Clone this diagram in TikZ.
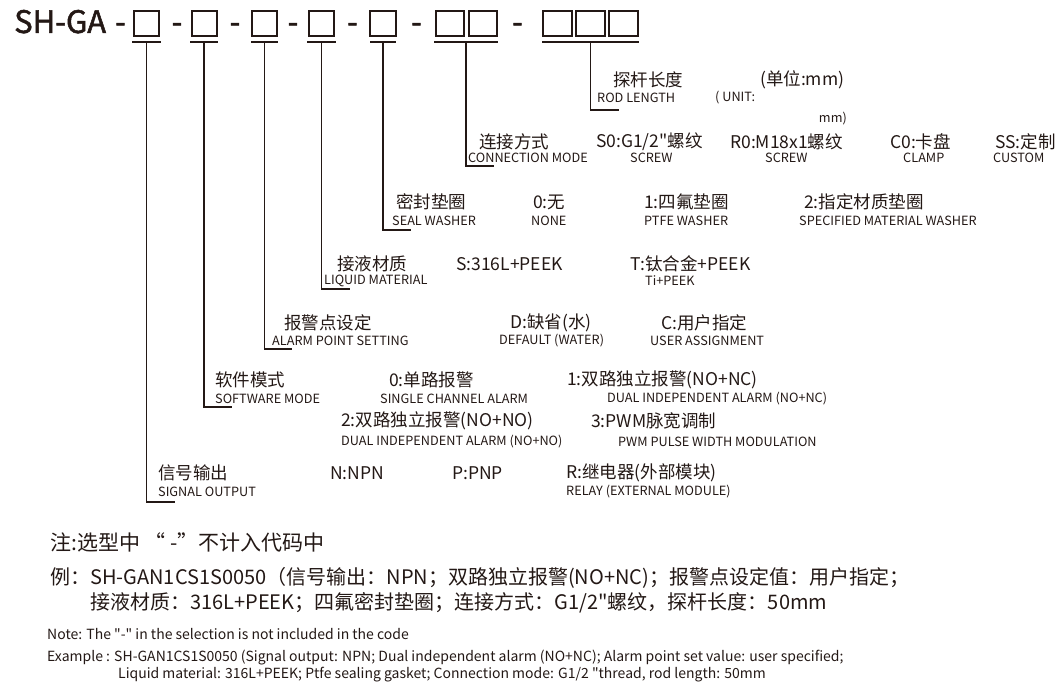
\documentclass[tikz,border=0pt]{standalone}
\usepackage{fontspec}
\setmainfont{Noto Sans CJK SC}[Ligatures=TeXOff]
\usetikzlibrary{positioning}
\definecolor{ink}{RGB}{35,24,21}

\tikzset{
  cn/.style={anchor=west, inner sep=0pt, font=\fontsize{17.5}{21}\selectfont},
  en/.style={anchor=west, inner sep=0pt, font=\fontsize{12.7}{15}\selectfont},
  codebox/.style={draw=ink, line width=1.3pt, inner sep=0pt, minimum height=25pt},
  uline/.style={draw=ink, line width=2pt},
  leader/.style={draw=ink, line width=1.3pt},
  note/.style={anchor=west, inner sep=0pt, font=\fontsize{20}{24}\selectfont},
  enote/.style={anchor=west, inner sep=0pt, font=\fontsize{14}{16}\selectfont},
  big/.style={inner sep=0pt, font=\fontsize{31}{36}\selectfont\addfontfeature{FakeBold=1.6}},
}

\begin{document}
\begin{tikzpicture}[x=1pt, y=-1pt, text=ink]
  \useasboundingbox (0,0) rectangle (1062,690);

  % code line
  \node[big, anchor=base west] (title) at (14,33) {SH-GA};
  \foreach \x [count=\i] in {120.5,177,235,293,352.5,416.5,517.5}
    \node[big, anchor=base] (dash\i) at (\x,33) {-};

  \node[codebox, minimum width=25pt] (b1) at (146.5,23.5) {};
  \node[codebox, minimum width=25pt] (b2) at (204.5,23.5) {};
  \node[codebox, minimum width=25pt] (b3) at (264.5,23.5) {};
  \node[codebox, minimum width=25pt] (b4) at (321.5,23.5) {};
  \node[codebox, minimum width=26pt] (b5) at (383,23.5) {};
  \node[codebox, minimum width=28pt] (b6a) at (450,23.5) {};
  \node[codebox, minimum width=28pt] (b6b) at (483,23.5) {};
  \node[codebox, minimum width=29pt] (b7a) at (557.5,23.5) {};
  \node[codebox, minimum width=29pt] (b7b) at (590.5,23.5) {};
  \node[codebox, minimum width=29pt] (b7c) at (623.5,23.5) {};

  \draw[uline] (132,42) -- (161,42);
  \draw[uline] (190,42) -- (218,42);
  \draw[uline] (251,42) -- (278,42);
  \draw[uline] (307,42) -- (336,42);
  \draw[uline] (370,42) -- (396,42);
  \draw[uline] (434,42) -- (498,42);
  \draw[uline] (542,42) -- (639,42);

  \coordinate (u1) at (146.5,42);
  \coordinate (u2) at (204,42);
  \coordinate (u3) at (264.5,42);
  \coordinate (u4) at (321.5,42);
  \coordinate (u5) at (383,42);
  \coordinate (u6) at (466,42);
  \coordinate (u7) at (590.5,42);

  % bracket ends
  \coordinate (e1) at (175,502);
  \coordinate (e2) at (232,407);
  \coordinate (e3) at (292,349);
  \coordinate (e4) at (350,289);
  \coordinate (e5) at (411,230);
  \coordinate (e6) at (494,166);
  \coordinate (e7) at (619,110);

  \foreach \i in {1,...,7}
    \draw[leader] (u\i) |- (e\i);

  % rod length
  \node[cn] (rod) at (613,80) {探杆长度};
  \node[en] (rodEn) at (597,98) {ROD LENGTH};
  \node[cn] (unit) at (760,80) {(单位:mm)};
  \node[en] (unitEn) at (715,98) {( UNIT:};
  \node[en, anchor=east] (unitMm) at (847,119) {mm)};

  % connection mode
  \node[cn] (con) at (479,142) {连接方式};
  \node[en] (conEn) at (468,158) {CONNECTION MODE};
  \node[cn] (s0) at (596,142) {S0:G1/2"螺纹};
  \node[en] (s0En) at (630,158) {SCREW};
  \node[cn] (r0) at (730,142) {R0:M18x1螺纹};
  \node[en] (r0En) at (765,158) {SCREW};
  \node[cn] (c0) at (890,142) {C0:卡盘};
  \node[en] (c0En) at (903,158) {CLAMP};
  \node[cn] (ss) at (995,142) {SS:定制};
  \node[en] (ssEn) at (993,158) {CUSTOM};

  % seal washer
  \node[cn] (seal) at (396,202) {密封垫圈};
  \node[en] (sealEn) at (392,221) {SEAL WASHER};
  \node[cn] (w0) at (533,202) {0:无};
  \node[en] (w0En) at (531,221) {NONE};
  \node[cn] (w1) at (644,202) {1:四氟垫圈};
  \node[en] (w1En) at (644,221) {PTFE WASHER};
  \node[cn] (w2) at (804,202) {2:指定材质垫圈};
  \node[en] (w2En) at (799,221) {SPECIFIED MATERIAL WASHER};

  % liquid material
  \node[cn] (liq) at (337,264) {接液材质};
  \node[en] (liqEn) at (324,281) {LIQUID MATERIAL};
  \node[cn] (mS) at (456,264) {S:316L+PEEK};
  \node[cn] (mT) at (630,264) {T:钛合金+PEEK};
  \node[en] (mTEn) at (645,281) {Ti+PEEK};

  % alarm point
  \node[cn] (alm) at (284,323) {报警点设定};
  \node[en] (almEn) at (272,341) {ALARM POINT SETTING};
  \node[cn] (aD) at (510,323) {D:缺省(水)};
  \node[en] (aDEn) at (499,341) {DEFAULT (WATER)};
  \node[cn] (aC) at (661,323) {C:用户指定};
  \node[en] (aCEn) at (650,341) {USER ASSIGNMENT};

  % software mode
  \node[cn] (sw) at (215,380) {软件模式};
  \node[en] (swEn) at (215,399) {SOFTWARE MODE};
  \node[cn] (m0) at (389,380) {0:单路报警};
  \node[en] (m0En) at (380,399) {SINGLE CHANNEL ALARM};
  \node[cn] (m1) at (567,380) {1:双路独立报警(NO+NC)};
  \node[en] (m1En) at (607,399) {DUAL INDEPENDENT ALARM (NO+NC)};
  \node[cn] (m2) at (341,421) {2:双路独立报警(NO+NO)};
  \node[en] (m2En) at (341,442) {DUAL INDEPENDENT ALARM (NO+NO)};
  \node[cn] (m3) at (591,421) {3:PWM脉宽调制};
  \node[en] (m3En) at (618,442) {PWM PULSE WIDTH MODULATION};

  % signal output
  \node[cn] (sig) at (158,473) {信号输出};
  \node[en] (sigEn) at (158,492) {SIGNAL OUTPUT};
  \node[cn] (oN) at (330,473) {N:NPN};
  \node[cn] (oP) at (452,473) {P:PNP};
  \node[cn] (oR) at (566,473) {R:继电器(外部模块)};
  \node[en] (oREn) at (566,492) {RELAY (EXTERNAL MODULE)};

  % notes
  \node[note, font=\fontsize{21}{24}\selectfont] (zhu) at (50,542) {注:选型中 “ -”不计入代码中};
  \node[note] (li1) at (50,578) {例：SH-GAN1CS1S0050（信号输出：NPN；双路独立报警(NO+NC)；报警点设定值：用户指定；};
  \node[note] (li2) at (90,603) {接液材质：316L+PEEK；四氟密封垫圈；连接方式：G1/2"螺纹，探杆长度：50mm};
  \node[enote] (noteEn) at (47,634) {Note: The "-" in the selection is not included in the code};
  \node[enote] (ex1) at (47,658) {Example : SH-GAN1CS1S0050 (Signal output: NPN; Dual independent alarm (NO+NC); Alarm point set value: user specified;};
  \node[enote] (ex2) at (118,675) {Liquid material: 316L+PEEK; Ptfe sealing gasket; Connection mode: G1/2 "thread, rod length: 50mm};
\end{tikzpicture}
\end{document}
